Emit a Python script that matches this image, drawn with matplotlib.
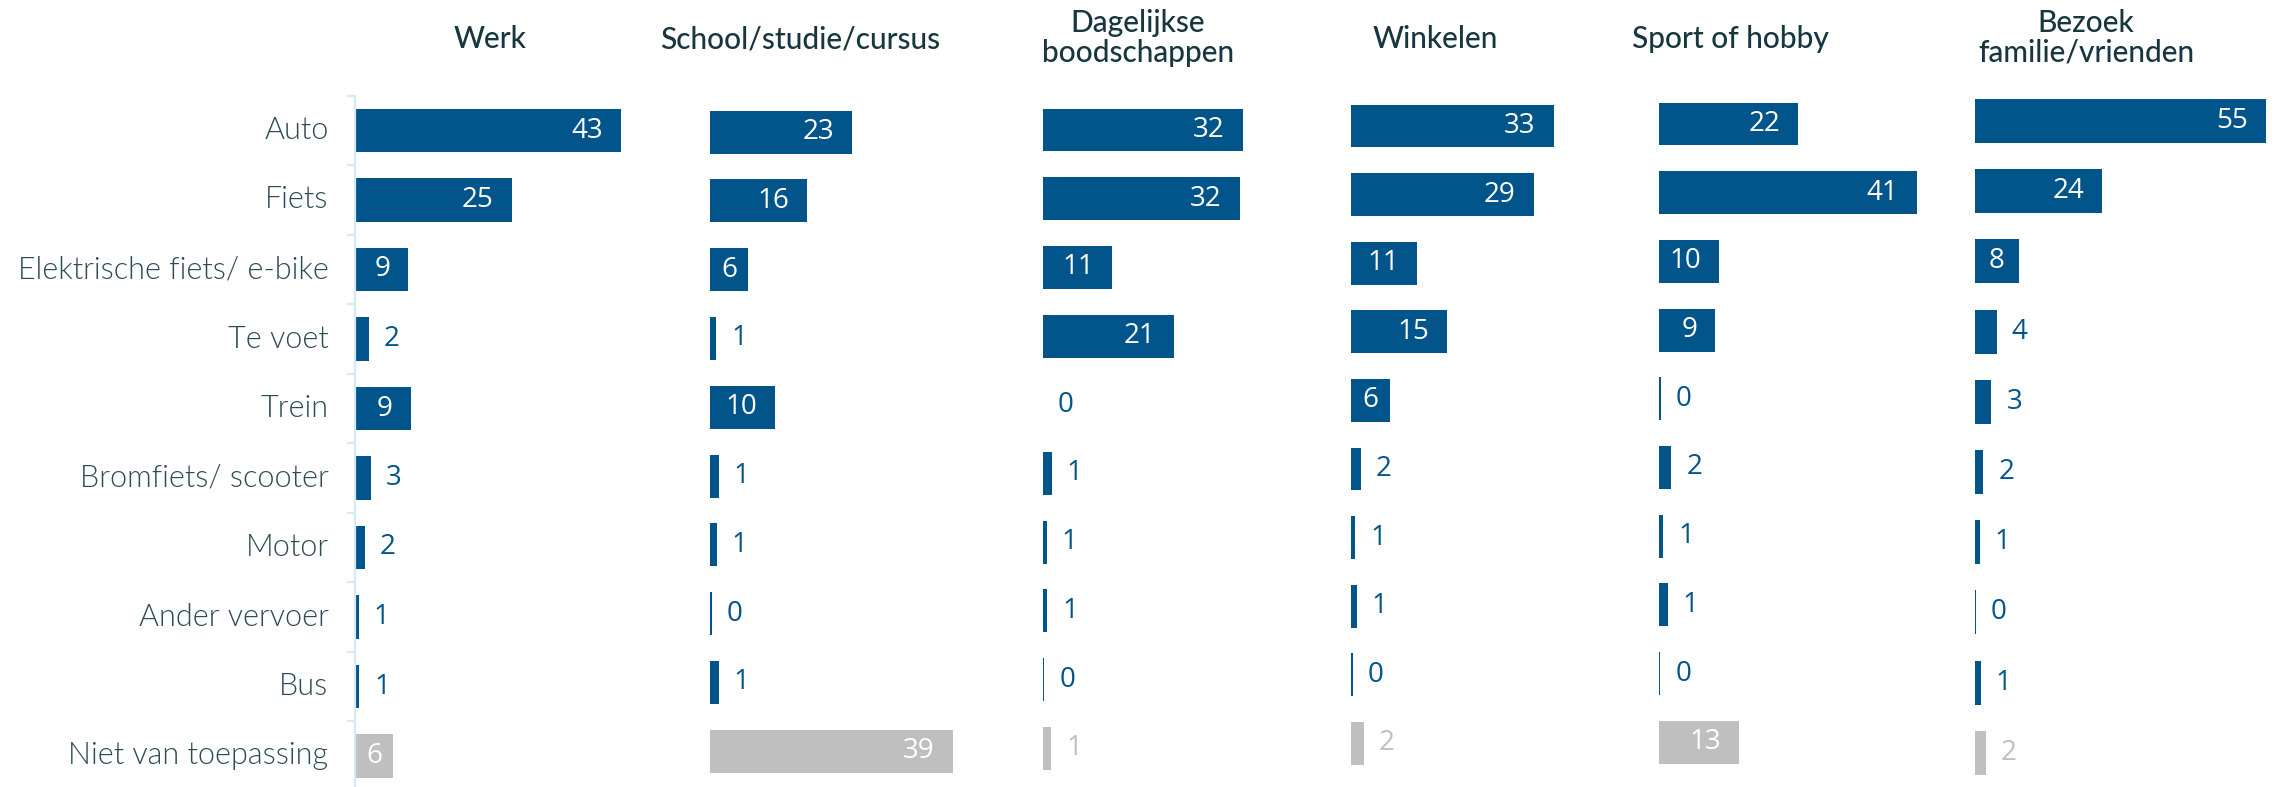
import numpy as np
import matplotlib
matplotlib.use("Agg")
import matplotlib.pyplot as plt
from matplotlib import font_manager as fm
from matplotlib.transforms import ScaledTranslation

# ---- data ----
categories = ["Auto", "Fiets", "Elektrische fiets/ e-bike", "Te voet", "Trein",
              "Bromfiets/ scooter", "Motor", "Ander vervoer", "Bus", "Niet van toepassing"]
titles = ["Werk", "School/studie/cursus", "Dagelijkse\nboodschappen", "Winkelen",
          "Sport of hobby", "Bezoek\nfamilie/vrienden"]
werk = [42.8, 25.2, 8.6, 2.2, 9.0, 2.6, 1.6, 0.6, 0.7, 6.1]
school = [22.9, 15.6, 6.1, 1.0, 10.4, 1.4, 1.1, 0.25, 1.4, 39.0]
boodschappen = [32.1, 31.6, 11.1, 21.0, 0.0, 1.4, 0.6, 0.65, 0.2, 1.3]
winkelen = [32.6, 29.4, 10.6, 15.4, 6.3, 1.6, 0.65, 0.9, 0.25, 2.1]
sport = [22.4, 41.4, 9.7, 9.05, 0.25, 2.0, 0.7, 1.4, 0.2, 12.8]
bezoek = [55.0, 24.0, 8.3, 4.1, 3.1, 1.6, 0.9, 0.2, 1.1, 2.0]
series = [werk, school, boodschappen, winkelen, sport, bezoek]

# ---- style ----
BLUE = "#02558b"
GREY = "#bfbfbf"
AXC = "#d3ecf3"
TITLEC = "#17363f"
LABELC = "#2d4b53"


def lato_file(tag, fallback_weight):
    for f in fm.fontManager.ttflist:
        base = f.fname.split("/")[-1].lower()
        if f.name == "Lato" and base.startswith("lato-" + tag) and "italic" not in base:
            return fm.FontProperties(fname=f.fname)
    return fm.FontProperties(family=["Lato", "DejaVu Sans"], weight=fallback_weight)


label_fp = lato_file("light.", "normal")
label_fp.set_size(22)
title_fp = lato_file("medium.", "semibold")
title_fp.set_size(21.5)

W, H = 2278, 787
fig = plt.figure(figsize=(W / 100, H / 100), dpi=100)

# panel layout in pixels: x0, width, px-per-unit, first row centre, row spacing
layout = [
    (355, 340, 6.22, 130.5, 69.5),
    (710, 320, 6.22, 132.0, 68.8),
    (1043, 300, 6.22, 130.0, 68.7),
    (1351, 300, 6.22, 126.0, 68.6),
    (1659, 300, 6.22, 124.0, 68.7),
    (1975, 300, 5.29, 121.0, 70.2),
]
title_pos = [(490, 39), (800, 39), (1138, 38), (1435, 39), (1730, 39), (2086, 38)]

n = len(categories)
for i, (vals, (x0, wpx, ppu, c0, s)) in enumerate(zip(series, layout)):
    top = c0 - s / 2
    hpx = n * s
    ax = fig.add_axes([x0 / W, (H - (top + hpx)) / H, wpx / W, hpx / H])
    colors = [BLUE] * (n - 1) + [GREY]
    y = np.arange(n)
    ax.barh(y, vals, height=0.625, color=colors, linewidth=0)
    ax.set_ylim(n - 0.5, -0.5)
    ax.set_xlim(0, wpx / ppu)
    ax.set_xticks([])
    for sp in ["top", "right", "bottom"]:
        ax.spines[sp].set_visible(False)
    if i == 0:
        ax.spines["left"].set_color(AXC)
        ax.spines["left"].set_linewidth(1.6)
        ax.set_yticks(y)
        ax.set_yticklabels(categories, fontproperties=label_fp, color=LABELC)
        ax.tick_params(axis="y", which="major", length=0, pad=19)
        ax.set_yticks(np.arange(-0.5, n, 1), minor=True)
        ax.tick_params(axis="y", which="minor", length=6, width=1.6, color=AXC)
        shift = ScaledTranslation(0, 3 / 100, fig.dpi_scale_trans)
        for lbl in ax.get_yticklabels():
            lbl.set_transform(lbl.get_transform() + shift)
    else:
        ax.spines["left"].set_visible(False)
        ax.set_yticks([])
    ax.patch.set_alpha(0)

    for j, v in enumerate(vals):
        lab = f"{int(round(v))}"
        bpx = v * ppu
        grey = (j == n - 1)
        if bpx >= 35:
            if bpx < 50:
                ax.annotate(lab, (v / 2, j), ha="center", va="center", color="white",
                            fontsize=20, family=["Open Sans", "DejaVu Sans"])
            else:
                ax.annotate(lab, (v, j), xytext=(-18, 0), textcoords="offset pixels",
                            ha="right", va="center", color="white",
                            fontsize=20, family=["Open Sans", "DejaVu Sans"])
        else:
            ax.annotate(lab, (v, j), xytext=(15, 0), textcoords="offset pixels",
                        ha="left", va="center", color=GREY if grey else BLUE,
                        fontsize=20, family=["Open Sans", "DejaVu Sans"])

for t, (tx, ty) in zip(titles, title_pos):
    fig.text(tx / W, 1 - ty / H, t, ha="center", va="center",
             fontproperties=title_fp, color=TITLEC, linespacing=1.05)

fig.savefig("out.png", dpi=100)
